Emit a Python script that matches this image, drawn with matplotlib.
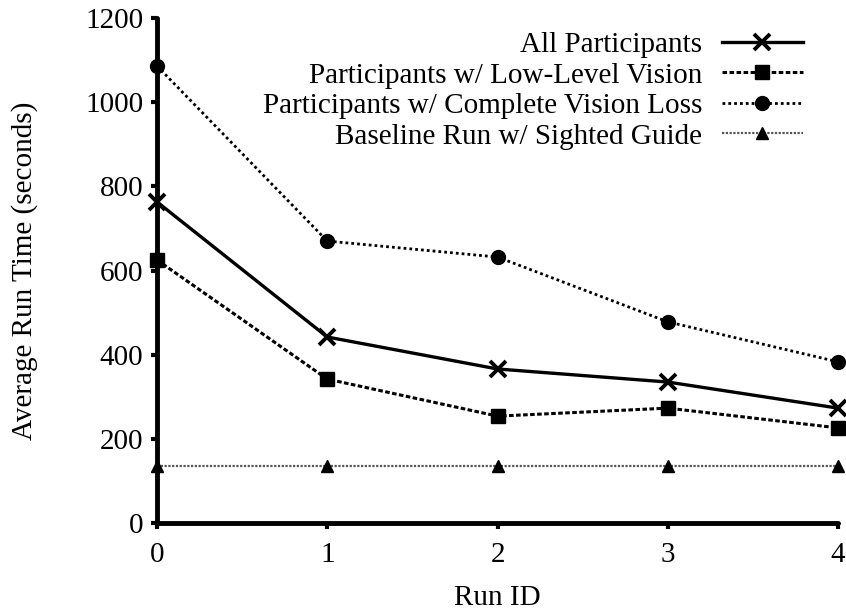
import numpy as np
import matplotlib.pyplot as plt

plt.rcParams['font.family'] = ['Liberation Serif', 'DejaVu Serif']

run_ids = [0, 1, 2, 3, 4]
all_participants = [763, 442, 366, 335, 273]
low_vision = [625, 342, 254, 273, 226]
complete_loss = [1086, 670, 632, 478, 383]
baseline = [135, 135, 135, 135, 135]

labels = ["All Participants",
          "Participants w/ Low-Level Vision",
          "Participants w/ Complete Vision Loss",
          "Baseline Run w/ Sighted Guide"]

fs = 21

fig = plt.figure(figsize=(8.46, 6.13), dpi=100)
ax = fig.add_axes([0.1856, 0.1468, 0.805, 0.8238])

ax.plot(run_ids, all_participants, color='black', lw=2.4, ls='-',
        marker='x', ms=11, mew=2.8, clip_on=False, label=labels[0], zorder=4)
ax.plot(run_ids, low_vision, color='black', lw=2.2, ls=(0, (1.5, 0.8)),
        marker='s', ms=10, clip_on=False, label=labels[1], zorder=4)
ax.plot(run_ids, complete_loss, color='black', lw=2.0, ls=(0, (1, 1.1)),
        marker='o', ms=10, clip_on=False, label=labels[2], zorder=4)
ax.plot(run_ids, baseline, color='#555555', lw=1.6, ls=(0, (1, 0.7)),
        marker='^', ms=9, mfc='black', mec='black', clip_on=False,
        label=labels[3], zorder=4)

ax.set_xlim(0, 4)
ax.set_ylim(0, 1200)
ax.set_xticks(run_ids)
ax.set_yticks(np.arange(0, 1201, 200))

for side in ['top', 'right']:
    ax.spines[side].set_visible(False)
for side in ['left', 'bottom']:
    ax.spines[side].set_linewidth(3.5)
    ax.spines[side].set_capstyle('round')

ax.tick_params(axis='both', direction='out', length=4, width=3, labelsize=fs)
ax.tick_params(axis='x', pad=10)
ax.tick_params(axis='y', pad=6)

ax.set_xlabel("Run ID", fontsize=fs, labelpad=12)
ax.set_ylabel("Average Run Time (seconds)", fontsize=fs, labelpad=34)

ax.legend(loc='upper right', bbox_to_anchor=(0.965, 0.996), frameon=False,
          markerfirst=False, fontsize=fs, handlelength=2.75,
          labelspacing=0.14, handletextpad=0.7, borderaxespad=0)

fig.savefig("out.png", dpi=100, facecolor='white')
